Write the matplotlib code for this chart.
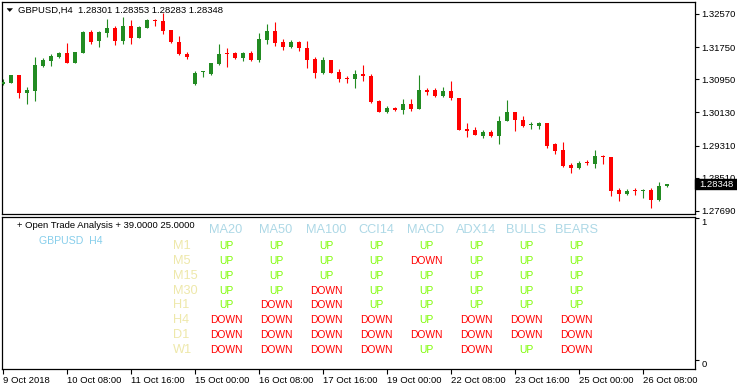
import numpy as np
import matplotlib
matplotlib.use("Agg")
import matplotlib.pyplot as plt
from matplotlib.patches import Rectangle, Polygon
from matplotlib.transforms import blended_transform_factory

plt.rcParams['font.family'] = ['Liberation Sans', 'DejaVu Sans']

# ---------------- data ----------------
symbol_title = "GBPUSD,H4  1.28301 1.28353 1.28283 1.28348"
last_price = 1.28348

opens = [1.30836, 1.30868, 1.31059, 1.30621, 1.30670, 1.31289, 1.31406, 1.31512, 1.31604, 1.31364,
         1.31611, 1.32117, 1.31909, 1.32099, 1.32223, 1.31909, 1.32273, 1.31983, 1.32231, 1.32421,
         1.32397, 1.32174, 1.31876, 1.31579, 1.30836, 1.31126, 1.31084, 1.31331, 1.31587, 1.31597,
         1.31488, 1.31611, 1.31431, 1.31926, 1.32149, 1.31876, 1.31753, 1.31876, 1.31728, 1.31455,
         1.31116, 1.31431, 1.31141, 1.30992, 1.30967, 1.31084, 1.31034, 1.30415, 1.30150, 1.30242,
         1.30192, 1.30333, 1.30224, 1.30695, 1.30687, 1.30539, 1.30663, 1.30489, 1.29721, 1.29697,
         1.29555, 1.29647, 1.29555, 1.29920, 1.30135, 1.29944, 1.29813, 1.29803, 1.29863, 1.29342,
         1.29201, 1.28830, 1.28763, 1.28904, 1.28854, 1.29053, 1.29028, 1.28210, 1.28119, 1.28203,
         1.28186, 1.28210, 1.27963, 1.28301]
highs = [1.30960, 1.31071, 1.31066, 1.30754, 1.31512, 1.31473, 1.31579, 1.31636, 1.31852, 1.31636,
         1.32137, 1.32174, 1.32137, 1.32446, 1.32280, 1.32503, 1.32421, 1.32273, 1.32446, 1.32446,
         1.32602, 1.32181, 1.32025, 1.31636, 1.31166, 1.31166, 1.31364, 1.31827, 1.31720, 1.31621,
         1.31636, 1.31654, 1.32107, 1.32322, 1.32379, 1.31951, 1.31926, 1.31901, 1.31901, 1.31512,
         1.31505, 1.31438, 1.31208, 1.31042, 1.31183, 1.31307, 1.31084, 1.30440, 1.30291, 1.30266,
         1.30465, 1.30465, 1.31059, 1.30744, 1.30737, 1.30762, 1.30910, 1.30497, 1.29877, 1.29771,
         1.29697, 1.29697, 1.30043, 1.30440, 1.30143, 1.30043, 1.29895, 1.29895, 1.29877, 1.29382,
         1.29399, 1.28887, 1.28936, 1.28954, 1.29201, 1.29077, 1.29036, 1.28267, 1.28235, 1.28260,
         1.28243, 1.28253, 1.28409, 1.28353]
lows = [1.30811, 1.30853, 1.30497, 1.30333, 1.30422, 1.31265, 1.31289, 1.31488, 1.31356, 1.31349,
        1.31597, 1.31819, 1.31760, 1.32008, 1.31810, 1.31827, 1.31819, 1.31968, 1.32216, 1.32280,
        1.32067, 1.31859, 1.31562, 1.31448, 1.30811, 1.31017, 1.31059, 1.31307, 1.31265, 1.31448,
        1.31406, 1.31406, 1.31388, 1.31819, 1.31785, 1.31678, 1.31735, 1.31654, 1.31240, 1.30992,
        1.31076, 1.31101, 1.30893, 1.30868, 1.30744, 1.30918, 1.30373, 1.30143, 1.30125, 1.30175,
        1.30100, 1.30175, 1.30217, 1.30564, 1.30507, 1.30514, 1.30447, 1.29689, 1.29531, 1.29573,
        1.29506, 1.29531, 1.29357, 1.29908, 1.29679, 1.29778, 1.29714, 1.29714, 1.29258, 1.29102,
        1.28773, 1.28639, 1.28738, 1.28822, 1.28763, 1.28847, 1.28069, 1.27945, 1.28079, 1.28094,
        1.28020, 1.27757, 1.27945, 1.28283]
closes = [1.30893, 1.31059, 1.30621, 1.30695, 1.31307, 1.31431, 1.31530, 1.31611, 1.31364, 1.31629,
          1.32132, 1.31876, 1.32132, 1.32216, 1.31909, 1.32280, 1.31983, 1.32241, 1.32421, 1.32389,
          1.32156, 1.31869, 1.31572, 1.31512, 1.31116, 1.31141, 1.31356, 1.31579, 1.31572, 1.31488,
          1.31611, 1.31431, 1.31951, 1.32149, 1.31859, 1.31753, 1.31876, 1.31720, 1.31431, 1.31116,
          1.31431, 1.31116, 1.30960, 1.30967, 1.31084, 1.31034, 1.30398, 1.30150, 1.30242, 1.30200,
          1.30333, 1.30217, 1.30687, 1.30645, 1.30539, 1.30663, 1.30489, 1.29704, 1.29679, 1.29580,
          1.29647, 1.29555, 1.29920, 1.30135, 1.29937, 1.29803, 1.29838, 1.29863, 1.29300, 1.29184,
          1.28805, 1.28763, 1.28887, 1.28879, 1.29053, 1.29028, 1.28193, 1.28119, 1.28193, 1.28186,
          1.28218, 1.27970, 1.28310, 1.28348]

price_ticks = [1.32570, 1.31750, 1.30950, 1.30130, 1.29310, 1.28510, 1.27690]
date_tick_bars = [0, 8, 16, 24, 32, 40, 48, 56, 64, 72, 80]
date_labels = ["9 Oct 2018", "10 Oct 08:00", "11 Oct 16:00", "15 Oct 00:00", "16 Oct 08:00",
               "17 Oct 16:00", "19 Oct 00:00", "22 Oct 08:00", "23 Oct 16:00", "25 Oct 00:00",
               "26 Oct 08:00"]

panel_title = "+ Open Trade Analysis + 39.0000 25.0000"
panel_symbol = "GBPUSD  H4"
indicators = ["MA20", "MA50", "MA100", "CCI14", "MACD", "ADX14", "BULLS", "BEARS"]
timeframes = ["M1", "M5", "M15", "M30", "H1", "H4", "D1", "W1"]
signals = [
    ["UP", "UP", "UP", "UP", "UP", "UP", "UP", "UP"],
    ["UP", "UP", "UP", "UP", "DOWN", "UP", "UP", "UP"],
    ["UP", "UP", "UP", "UP", "UP", "UP", "UP", "UP"],
    ["UP", "UP", "DOWN", "UP", "UP", "UP", "UP", "UP"],
    ["UP", "DOWN", "DOWN", "UP", "UP", "UP", "UP", "UP"],
    ["DOWN", "DOWN", "DOWN", "DOWN", "UP", "DOWN", "DOWN", "DOWN"],
    ["DOWN", "DOWN", "DOWN", "DOWN", "DOWN", "DOWN", "DOWN", "DOWN"],
    ["DOWN", "DOWN", "DOWN", "DOWN", "UP", "DOWN", "UP", "DOWN"],
]

# ---------------- layout ----------------
W, H = 737, 390
UI_FS = 6.8
BULL = "#228B22"
BEAR = "#FF0000"

def fx(px):
    return px / W

def fy(py):
    return 1 - py / H

fig = plt.figure(figsize=(W / 100, H / 100), dpi=100)
fig.patch.set_facecolor("white")

ax1 = fig.add_axes([fx(2), fy(213.5), (694.5 - 2) / W, (213.5 - 2) / H])
ax2 = fig.add_axes([fx(2), fy(369), (694.5 - 2) / W, (369 - 216.5) / H])

for ax in (ax1, ax2):
    ax.set_facecolor("white")
    for s in ax.spines.values():
        s.set_color("black")
        s.set_linewidth(0.9)
    ax.set_xlim(-0.125, 86.44)

# ---------------- candles ----------------
o = np.array(opens)
h = np.array(highs)
l = np.array(lows)
c = np.array(closes)
x = np.arange(len(o))
cols = np.where(c >= o, BULL, BEAR)
ax1.vlines(x, l, h, colors=cols, linewidth=0.8, zorder=2)
body_h = np.maximum(np.abs(c - o), 0.00025)
ax1.bar(x, body_h, bottom=np.minimum(o, c), width=0.62, color=cols, linewidth=0, zorder=3)

ax1.set_ylim(1.27628, 1.32867)
ax1.yaxis.tick_right()
ax1.set_yticks(price_ticks)
ax1.set_yticklabels(["%.5f" % v for v in price_ticks])
ax1.tick_params(axis="y", direction="out", length=3, width=0.8, pad=2,
                labelsize=UI_FS, colors="black")
ax1.set_xticks([])

# last price box
tr = blended_transform_factory(ax1.transAxes, ax1.transData)
box_w = (737 - 695) / (694.5 - 2)
ax1.add_patch(Rectangle((1.0, last_price - 0.00124), box_w, 0.00248, transform=tr,
                        facecolor="black", edgecolor="black", clip_on=False, zorder=6))
ax1.text(1.0 + 4.5 / 692.5, last_price, "%.5f" % last_price, transform=tr, color="white",
         fontsize=UI_FS, va="center", ha="left", clip_on=False, zorder=7)

# title
fig.text(fx(18), fy(10), symbol_title, fontsize=UI_FS, va="center", ha="left", color="black")
fig.patches.append(Polygon([[fx(7), fy(8.5)], [fx(12.5), fy(8.5)], [fx(9.75), fy(11.5)]],
                           closed=True, transform=fig.transFigure, facecolor="black",
                           edgecolor="black", linewidth=0.3))

# ---------------- sub window ----------------
ax2.set_ylim(-9 / 142, 1 + 1.5 / 142)
ax2.yaxis.tick_right()
ax2.set_yticks([0, 1])
ax2.set_yticklabels(["0", "1"])
ax2.tick_params(axis="y", direction="out", length=3, width=0.8, pad=2,
                labelsize=UI_FS, colors="black")
for t in ax2.get_yticklabels():
    t.set_va("top")

ax2.set_xticks(date_tick_bars)
ax2.set_xticklabels(date_labels)
ax2.tick_params(axis="x", direction="out", length=3.3, width=0.8, pad=1.5,
                labelsize=UI_FS, colors="black")
for t in ax2.get_xticklabels():
    t.set_ha("left")

fig.text(fx(16.7), fy(225.7), panel_title, fontsize=UI_FS, va="center", ha="left", color="black")
fig.text(fx(39), fy(240.7), panel_symbol, fontsize=7.6, va="center", ha="left", color="#87CEEB")

col_x0, col_dx = 226, 50
row_y0, row_dy = 245.7, 14.95
for k, name in enumerate(indicators):
    fig.text(fx(col_x0 + col_dx * k), fy(229.7), name, fontsize=9.2, ha="center", va="center",
             color="#ADD8E6")
for r, tf in enumerate(timeframes):
    yy = row_y0 + row_dy * r
    fig.text(fx(173), fy(yy), tf, fontsize=9.2, ha="left", va="center", color="#EEE8AA")
    for k, sig in enumerate(signals[r]):
        fig.text(fx(col_x0 + col_dx * k), fy(yy), sig, fontsize=7.4, ha="center", va="center",
                 color="#7CFC00" if sig == "UP" else "#FF0000")

fig.savefig("out.png", dpi=100)
